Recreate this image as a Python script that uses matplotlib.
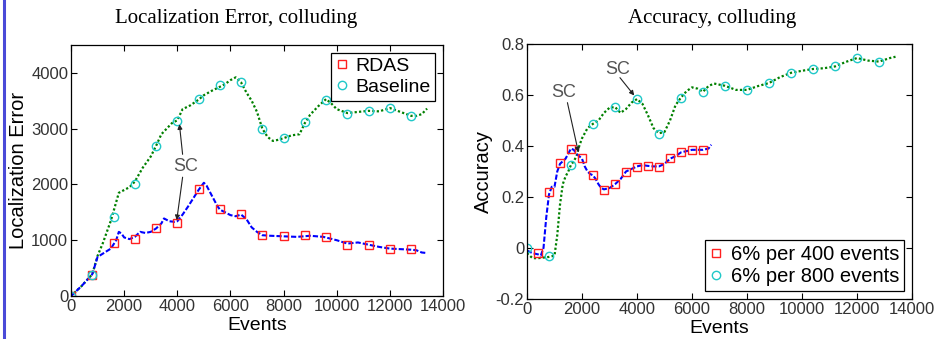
import matplotlib
matplotlib.use("Agg")
import matplotlib.pyplot as plt
from matplotlib.lines import Line2D
from matplotlib.ticker import FuncFormatter

# ---- Left panel data ----
le_rdas_line_x = [0, 400, 800, 1000, 1200, 1500, 1700, 1800, 1900, 2000, 2200, 2400, 2600, 2800, 3000, 3200, 3400, 3500, 3700, 3900, 4000, 4200, 4400, 4600, 4800, 5000, 5100, 5300, 5500, 5600, 5800, 6000, 6200, 6400, 6600, 6800, 7000, 7200, 7500, 8000, 8500, 9000, 9500, 10000, 10400, 10800, 11200, 11600, 12000, 12400, 12800, 13000, 13200, 13400]
le_rdas_line_y = [0, 180, 390, 700, 760, 850, 1000, 1150, 1120, 1050, 1020, 1060, 1150, 1130, 1150, 1210, 1300, 1390, 1340, 1330, 1340, 1460, 1600, 1750, 1900, 2030, 1980, 1800, 1620, 1550, 1500, 1450, 1430, 1460, 1380, 1230, 1150, 1090, 1080, 1070, 1060, 1080, 1060, 1000, 940, 960, 920, 880, 850, 840, 830, 820, 780, 770]
le_base_line_x = [0, 400, 800, 1000, 1200, 1500, 1800, 2000, 2200, 2400, 2700, 3000, 3200, 3400, 3600, 3800, 4000, 4100, 4200, 4500, 4800, 5000, 5300, 5600, 5800, 6000, 6200, 6400, 6600, 6800, 7000, 7200, 7400, 7600, 7800, 8000, 8300, 8600, 8800, 9000, 9300, 9600, 9800, 10000, 10400, 10800, 11200, 11600, 12000, 12400, 12800, 13000, 13200, 13400]
le_base_line_y = [0, 180, 390, 720, 950, 1350, 1850, 1900, 1950, 2050, 2300, 2500, 2690, 2900, 3000, 3100, 3150, 3250, 3350, 3420, 3520, 3600, 3680, 3750, 3800, 3870, 3920, 3830, 3650, 3500, 3300, 3000, 2850, 2780, 2800, 2830, 2880, 2900, 3100, 3250, 3400, 3530, 3450, 3350, 3280, 3300, 3320, 3310, 3370, 3300, 3230, 3230, 3260, 3360]
le_marker_x = [0, 800, 1600, 2400, 3200, 4000, 4800, 5600, 6400, 7200, 8000, 8800, 9600, 10400, 11200, 12000, 12800]
le_rdas_mark_y = [0, 384, 953, 1020, 1211, 1313, 1919, 1553, 1463, 1091, 1079, 1091, 1061, 923, 911, 834, 834]
le_base_mark_y = [0, 384, 1409, 2009, 2693, 3142, 3532, 3790, 3832, 2993, 2831, 3118, 3520, 3262, 3322, 3370, 3232]

# ---- Right panel data ----
ri_400_line_x = [0, 200, 400, 500, 600, 700, 800, 900, 1000, 1100, 1200, 1300, 1400, 1500, 1600, 1700, 1800, 1900, 2000, 2100, 2200, 2300, 2400, 2500, 2600, 2700, 2800, 3000, 3200, 3400, 3600, 3800, 4000, 4200, 4400, 4600, 4800, 5000, 5200, 5400, 5600, 5800, 6000, 6200, 6400, 6600, 6700]
ri_400_line_y = [-0.01, -0.02, -0.025, -0.03, 0.0, 0.12, 0.21, 0.24, 0.24, 0.30, 0.33, 0.34, 0.35, 0.37, 0.39, 0.385, 0.37, 0.36, 0.35, 0.32, 0.30, 0.29, 0.285, 0.27, 0.25, 0.235, 0.23, 0.235, 0.25, 0.27, 0.30, 0.31, 0.32, 0.325, 0.322, 0.32, 0.32, 0.33, 0.35, 0.36, 0.375, 0.38, 0.385, 0.385, 0.385, 0.39, 0.405]
ri_800_line_x = [0, 200, 400, 800, 1000, 1100, 1200, 1300, 1400, 1500, 1600, 1700, 1800, 1900, 2000, 2100, 2200, 2400, 2600, 2800, 3000, 3200, 3400, 3600, 3800, 4000, 4200, 4400, 4600, 4800, 5000, 5200, 5400, 5600, 5800, 6000, 6200, 6400, 6600, 6800, 7200, 7600, 8000, 8400, 8800, 9200, 9600, 10000, 10400, 10800, 11200, 11600, 12000, 12400, 12800, 13200, 13400]
ri_800_line_y = [-0.02, -0.04, -0.04, -0.035, -0.03, 0.05, 0.17, 0.25, 0.28, 0.30, 0.326, 0.34, 0.36, 0.40, 0.43, 0.45, 0.47, 0.487, 0.50, 0.53, 0.55, 0.553, 0.53, 0.545, 0.57, 0.584, 0.565, 0.52, 0.47, 0.45, 0.455, 0.50, 0.56, 0.59, 0.615, 0.63, 0.625, 0.613, 0.635, 0.645, 0.636, 0.62, 0.62, 0.635, 0.647, 0.67, 0.687, 0.695, 0.702, 0.705, 0.712, 0.73, 0.745, 0.735, 0.731, 0.745, 0.75]
ri_400_mark_x = [400, 800, 1200, 1600, 2000, 2400, 2800, 3200, 3600, 4000, 4400, 4800, 5200, 5600, 6000, 6400]
ri_400_mark_y = [-0.021, 0.22, 0.333, 0.39, 0.352, 0.286, 0.227, 0.25, 0.30, 0.316, 0.322, 0.319, 0.352, 0.376, 0.385, 0.383]
ri_800_mark_x = [0, 800, 1600, 2400, 3200, 4000, 4800, 5600, 6400, 7200, 8000, 8800, 9600, 10400, 11200, 12000, 12800]
ri_800_mark_y = [0, -0.03, 0.326, 0.487, 0.553, 0.584, 0.448, 0.59, 0.613, 0.636, 0.619, 0.647, 0.687, 0.702, 0.712, 0.745, 0.731]

SANS = ["Liberation Sans", "DejaVu Sans"]
SERIF = ["Liberation Serif", "DejaVu Serif"]
BLUE = "#0000ff"
GREEN = "#008000"
RED = "#ff2020"
CYAN = "#20c8c8"
TICKC = "#333333"

fig = plt.figure(figsize=(9.38, 3.39), dpi=100)
fig.patch.set_facecolor("white")

# left decorative vertical line
fig.add_artist(Line2D([4.0 / 938, 4.0 / 938], [0, 1], transform=fig.transFigure, color="#4a4ad8", lw=2.2))

axL = fig.add_axes([71 / 938, 1 - 296 / 339, 372 / 938, 251 / 339])
axR = fig.add_axes([527 / 938, 1 - 299 / 339, 385 / 938, 255 / 339])


def style(ax):
    ax.tick_params(direction="in", top=True, right=True, length=4, width=0.8,
                   labelsize=12, colors="black", labelcolor=TICKC, pad=2)
    for lab in ax.get_xticklabels() + ax.get_yticklabels():
        lab.set_family(SANS)
    for s in ax.spines.values():
        s.set_linewidth(0.9)


ARROW = dict(arrowstyle="-|>", color="#222222", lw=0.8, mutation_scale=7, shrinkA=0, shrinkB=0)

# Left panel
axL.plot(le_base_line_x, le_base_line_y, color=GREEN, ls=(0, (1, 1)), lw=1.6)
axL.plot(le_rdas_line_x, le_rdas_line_y, color=BLUE, ls=(0, (2.5, 1)), lw=1.5)
axL.plot(le_marker_x, le_rdas_mark_y, ls="none", marker="s", ms=6, mfc="none", mec=RED, mew=1.0, label="RDAS")
axL.plot(le_marker_x, le_base_mark_y, ls="none", marker="o", ms=6, mfc="none", mec=CYAN, mew=1.0, label="Baseline")
axL.set_xlim(0, 14000)
axL.set_ylim(0, 4500)
axL.set_xticks(range(0, 14001, 2000))
axL.set_yticks(range(0, 4001, 1000))
style(axL)
axL.set_xlabel("Events", fontsize=14, family=SANS, labelpad=2)
axL.set_ylabel("Localization Error", fontsize=14.5, family=SANS, labelpad=2)
legL = axL.legend(loc="upper right", prop={"family": SANS, "size": 14}, handlelength=0.6,
                  handletextpad=0.4, borderpad=0.25, labelspacing=0.15, fancybox=False,
                  edgecolor="black", framealpha=1, borderaxespad=0.4)
legL.get_frame().set_linewidth(0.9)

axL.text(4300, 2330, "SC", fontsize=13, family=SANS, color="#555555", ha="center", va="center")
axL.annotate("", xy=(4080, 3080), xytext=(4200, 2540), arrowprops=ARROW)
axL.annotate("", xy=(3980, 1360), xytext=(4200, 2130), arrowprops=ARROW)

# Right panel
axR.plot(ri_800_line_x, ri_800_line_y, color=GREEN, ls=(0, (1, 1)), lw=1.6)
axR.plot(ri_400_line_x, ri_400_line_y, color=BLUE, ls=(0, (2.5, 1)), lw=1.5)
axR.plot(ri_400_mark_x, ri_400_mark_y, ls="none", marker="s", ms=6, mfc="none", mec=RED, mew=1.0,
         label="6% per 400 events")
axR.plot(ri_800_mark_x, ri_800_mark_y, ls="none", marker="o", ms=6, mfc="none", mec=CYAN, mew=1.0,
         label="6% per 800 events")
axR.set_xlim(0, 14000)
axR.set_ylim(-0.2, 0.8)
axR.set_xticks(range(0, 14001, 2000))
axR.set_yticks([-0.2, 0, 0.2, 0.4, 0.6, 0.8])
axR.yaxis.set_major_formatter(FuncFormatter(lambda v, p: "0" if abs(v) < 1e-9 else f"{v:.1f}"))
style(axR)
axR.set_xlabel("Events", fontsize=14, family=SANS, labelpad=2)
axR.set_ylabel("Accuracy", fontsize=14.5, family=SANS, labelpad=2)
legR = axR.legend(loc="lower right", prop={"family": SANS, "size": 14.5}, handlelength=0.6,
                  handletextpad=0.4, borderpad=0.25, labelspacing=0.15, fancybox=False,
                  edgecolor="black", framealpha=1, borderaxespad=0.4)
legR.get_frame().set_linewidth(0.9)

axR.text(1350, 0.61, "SC", fontsize=13, family=SANS, color="#555555", ha="center", va="center")
axR.annotate("", xy=(1870, 0.375), xytext=(1470, 0.57), arrowprops=ARROW)
axR.text(3300, 0.70, "SC", fontsize=13, family=SANS, color="#555555", ha="center", va="center")
axR.annotate("", xy=(3900, 0.598), xytext=(3380, 0.668), arrowprops=ARROW)

fig.text(236 / 938, 1 - 18 / 339, "Localization Error, colluding", ha="center", va="center",
         fontsize=15, family=SERIF)
fig.text(712 / 938, 1 - 18 / 339, "Accuracy, colluding", ha="center", va="center",
         fontsize=15, family=SERIF)

fig.savefig("out.png", dpi=100, facecolor="white")
